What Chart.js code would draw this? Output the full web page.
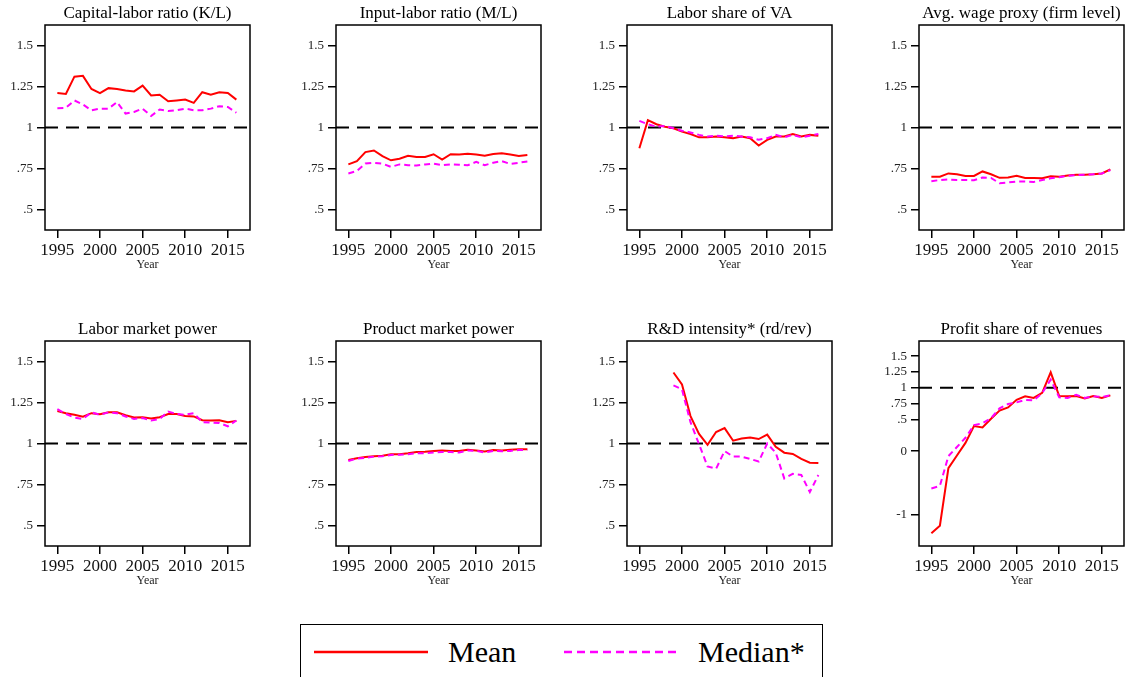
<!DOCTYPE html>
<html>
<head>
<meta charset="utf-8">
<script src="https://cdn.jsdelivr.net/npm/chart.js@4.4.1/dist/chart.umd.min.js"></script>
<style>
  body { margin: 0; background: #fff; width: 1128px; height: 677px; position: relative; overflow: hidden; font-family: 'Liberation Serif', serif; }
  .panel { position: absolute; }
  #legend { position: absolute; left: 300px; top: 624px; width: 521px; height: 70px; border: 1.5px solid #000; }
  #legend svg { position: absolute; left: 0; top: 0; }
  .lg-text { position: absolute; top: 9px; font-size: 30px; line-height: 36px; color: #000; }
</style>
</head>
<body>

<div id="legend">
  <svg width="521" height="60">
    <line x1="13" y1="27" x2="127" y2="27" stroke="#ff0000" stroke-width="2.5"></line>
    <line x1="263" y1="27" x2="376" y2="27" stroke="#ff00ff" stroke-width="2.5" stroke-dasharray="8,5"></line>
  </svg>
  <span class="lg-text" style="left:147px">Mean</span>
  <span class="lg-text" style="left:397px">Median*</span>
</div>

<script>
// years and tick values
var years = [1995, 1996, 1997, 1998, 1999, 2000, 2001, 2002, 2003, 2004, 2005,
             2006, 2007, 2008, 2009, 2010, 2011, 2012, 2013, 2014, 2015, 2016];
var xTicks = [1995, 2000, 2005, 2010, 2015];
var yTicks = [0.5, 0.75, 1, 1.25, 1.5];
var yTicksProfit = [-1, 0, 0.5, 0.75, 1, 1.25, 1.5];

var titles = [
  'Capital-labor ratio (K/L)', 'Input-labor ratio (M/L)', 'Labor share of VA', 'Avg. wage proxy (firm level)',
  'Labor market power', 'Product market power', 'R&D intensity* (rd/rev)', 'Profit share of revenues'
];

// series (mean = solid red, median = dashed magenta)
var capLabMean   = [1.21, 1.205, 1.31, 1.315, 1.235, 1.21, 1.24, 1.235, 1.225, 1.22, 1.255, 1.195, 1.2, 1.16, 1.165, 1.17, 1.15, 1.215, 1.2, 1.215, 1.21, 1.17];
var capLabMedian = [1.118, 1.12, 1.165, 1.14, 1.105, 1.115, 1.115, 1.155, 1.085, 1.095, 1.115, 1.07, 1.11, 1.1, 1.105, 1.115, 1.105, 1.105, 1.115, 1.13, 1.125, 1.09];

var inLabMean   = [0.775, 0.795, 0.85, 0.86, 0.825, 0.8, 0.81, 0.828, 0.82, 0.82, 0.837, 0.805, 0.837, 0.835, 0.84, 0.835, 0.828, 0.838, 0.843, 0.835, 0.826, 0.832];
var inLabMedian = [0.72, 0.735, 0.78, 0.785, 0.78, 0.76, 0.775, 0.77, 0.768, 0.775, 0.78, 0.77, 0.775, 0.773, 0.77, 0.79, 0.77, 0.785, 0.795, 0.778, 0.785, 0.793];

var labShareMean   = [0.873, 1.045, 1.02, 1.005, 0.995, 0.975, 0.96, 0.94, 0.94, 0.945, 0.94, 0.935, 0.945, 0.935, 0.89, 0.925, 0.945, 0.945, 0.96, 0.945, 0.955, 0.95];
var labShareMedian = [1.04, 1.02, 1.005, 1.01, 0.995, 0.98, 0.97, 0.955, 0.945, 0.95, 0.945, 0.95, 0.945, 0.94, 0.925, 0.935, 0.955, 0.94, 0.955, 0.94, 0.95, 0.96];

var wageMean   = [0.7, 0.7, 0.72, 0.715, 0.705, 0.705, 0.732, 0.715, 0.693, 0.695, 0.705, 0.692, 0.692, 0.69, 0.703, 0.7, 0.708, 0.712, 0.712, 0.715, 0.72, 0.745];
var wageMedian = [0.672, 0.68, 0.683, 0.68, 0.68, 0.678, 0.695, 0.692, 0.66, 0.665, 0.67, 0.67, 0.668, 0.68, 0.69, 0.697, 0.705, 0.71, 0.712, 0.715, 0.72, 0.74];

var labPowerMean   = [1.198, 1.185, 1.175, 1.163, 1.185, 1.178, 1.19, 1.19, 1.172, 1.158, 1.16, 1.152, 1.16, 1.18, 1.18, 1.168, 1.165, 1.142, 1.14, 1.142, 1.13, 1.138];
var labPowerMedian = [1.21, 1.18, 1.158, 1.15, 1.19, 1.175, 1.19, 1.185, 1.165, 1.15, 1.155, 1.14, 1.15, 1.195, 1.18, 1.175, 1.185, 1.13, 1.128, 1.125, 1.105, 1.14];

var prodPowerMean   = [0.9, 0.91, 0.918, 0.922, 0.925, 0.935, 0.935, 0.94, 0.948, 0.95, 0.955, 0.958, 0.955, 0.955, 0.962, 0.958, 0.952, 0.96, 0.958, 0.962, 0.965, 0.965];
var prodPowerMedian = [0.893, 0.908, 0.912, 0.92, 0.922, 0.93, 0.932, 0.935, 0.94, 0.94, 0.945, 0.948, 0.948, 0.945, 0.958, 0.955, 0.945, 0.955, 0.952, 0.955, 0.96, 0.962];

var rdMean   = [null, null, null, null, 1.433, 1.36, 1.167, 1.058, 0.992, 1.07, 1.094, 1.017, 1.03, 1.037, 1.027, 1.054, 0.98, 0.944, 0.936, 0.906, 0.883, 0.881];
var rdMedian = [null, null, null, null, 1.354, 1.33, 1.13, 0.996, 0.86, 0.846, 0.954, 0.92, 0.92, 0.906, 0.89, 1.0, 0.944, 0.787, 0.815, 0.808, 0.704, 0.808];

var profitMean   = [-1.3, -1.18, -0.27, -0.07, 0.13, 0.395, 0.375, 0.51, 0.64, 0.69, 0.81, 0.865, 0.84, 0.92, 1.245, 0.87, 0.865, 0.87, 0.83, 0.87, 0.84, 0.88];
var profitMedian = [-0.59, -0.55, -0.08, 0.065, 0.21, 0.41, 0.44, 0.52, 0.675, 0.745, 0.77, 0.81, 0.8, 0.915, 1.13, 0.85, 0.84, 0.89, 0.84, 0.865, 0.855, 0.88];

// axis ranges
var X_MIN = 1993.55, X_MAX = 2017.6;
var Y_MIN = 0.375, Y_MAX = 1.625;
var PROFIT_MIN = -1.5, PROFIT_MAX = 1.74;

var FONT = "'Liberation Serif', serif";

// black frame around each plot area
var framePlugin = {
  id: 'frame',
  afterDraw: function(chart) {
    var a = chart.chartArea, c = chart.ctx;
    c.save();
    c.strokeStyle = '#000';
    c.lineWidth = 1.5;
    c.strokeRect(a.left, a.top, a.right - a.left, a.bottom - a.top);
    c.restore();
  }
};

function fmtTick(v) {
  var s = String(v);
  if (s.indexOf('0.') === 0) s = s.slice(1);
  return s;
}

var panels = [
  { title: titles[0], mean: capLabMean,    median: capLabMedian },
  { title: titles[1], mean: inLabMean,     median: inLabMedian },
  { title: titles[2], mean: labShareMean,  median: labShareMedian },
  { title: titles[3], mean: wageMean,      median: wageMedian },
  { title: titles[4], mean: labPowerMean,  median: labPowerMedian },
  { title: titles[5], mean: prodPowerMean, median: prodPowerMedian },
  { title: titles[6], mean: rdMean,        median: rdMedian },
  { title: titles[7], mean: profitMean,    median: profitMedian, ticks: yTicksProfit, min: PROFIT_MIN, max: PROFIT_MAX }
];

var boxLefts = [45, 336, 627, 919];
var boxTops = [25, 341];
var Y_AXIS_W = 45, X_AXIS_H = 44, TITLE_H = 25, BOX_W = 205, BOX_H = 205, RIGHT_PAD = 2;

panels.forEach(function(p, i) {
  var col = i % 4, row = Math.floor(i / 4);
  var div = document.createElement('div');
  div.className = 'panel';
  var w = Y_AXIS_W + BOX_W + RIGHT_PAD;
  var h = TITLE_H + BOX_H + X_AXIS_H;
  div.style.left = (boxLefts[col] - Y_AXIS_W) + 'px';
  div.style.top = (boxTops[row] - TITLE_H) + 'px';
  var canvas = document.createElement('canvas');
  canvas.width = w;
  canvas.height = h;
  div.appendChild(canvas);
  document.body.appendChild(div);

  var ticks = p.ticks || yTicks;

  new Chart(canvas.getContext('2d'), {
    type: 'line',
    data: {
      labels: years,
      datasets: [{
        label: 'Median*',
        data: p.median,
        borderColor: '#ff00ff',
        borderWidth: 2,
        borderDash: [6, 4],
        pointRadius: 0,
        tension: 0
      }, {
        label: 'Mean',
        data: p.mean,
        borderColor: '#ff0000',
        borderWidth: 2,
        pointRadius: 0,
        tension: 0
      }, {
        label: 'ref',
        data: [{ x: X_MIN, y: 1 }, { x: X_MAX, y: 1 }],
        borderColor: '#000',
        borderWidth: 2,
        borderDash: [13, 8],
        pointRadius: 0
      }]
    },
    options: {
      responsive: false,
      animation: false,
      layout: { padding: { right: RIGHT_PAD } },
      plugins: {
        legend: { display: false },
        tooltip: { enabled: false },
        title: {
          display: true,
          text: p.title,
          fullSize: false,
          color: '#000',
          font: { family: FONT, size: 17, weight: 'normal', lineHeight: 1.2 },
          padding: { top: 3.5, bottom: 1.1 }
        }
      },
      scales: {
        x: {
          type: 'linear',
          min: X_MIN,
          max: X_MAX,
          afterBuildTicks: function(scale) {
            scale.ticks = xTicks.map(function(v) { return { value: v }; });
          },
          afterFit: function(scale) { scale.height = X_AXIS_H; },
          border: { display: false },
          grid: { drawOnChartArea: false, drawTicks: true, tickLength: 8, color: '#000', lineWidth: 1.5 },
          ticks: {
            autoSkip: false,
            maxRotation: 0,
            padding: 2,
            color: '#111',
            font: { family: FONT, size: 17 },
            callback: function(v) { return String(v); }
          },
          title: {
            display: true,
            text: 'Year',
            color: '#222',
            font: { family: FONT, size: 12, lineHeight: 1.2 },
            padding: { top: 0, bottom: 1.8 }
          }
        },
        y: {
          min: p.min !== undefined ? p.min : Y_MIN,
          max: p.max !== undefined ? p.max : Y_MAX,
          afterBuildTicks: function(scale) {
            scale.ticks = ticks.map(function(v) { return { value: v }; });
          },
          afterFit: function(scale) { scale.width = Y_AXIS_W; },
          border: { display: false },
          grid: { drawOnChartArea: false, drawTicks: true, tickLength: 8, color: '#000', lineWidth: 1.5 },
          ticks: {
            padding: 4,
            color: '#222',
            font: { family: FONT, size: 13 },
            callback: function(v) { return fmtTick(v); }
          }
        }
      }
    },
    plugins: [framePlugin]
  });
});
</script>
</body>
</html>
